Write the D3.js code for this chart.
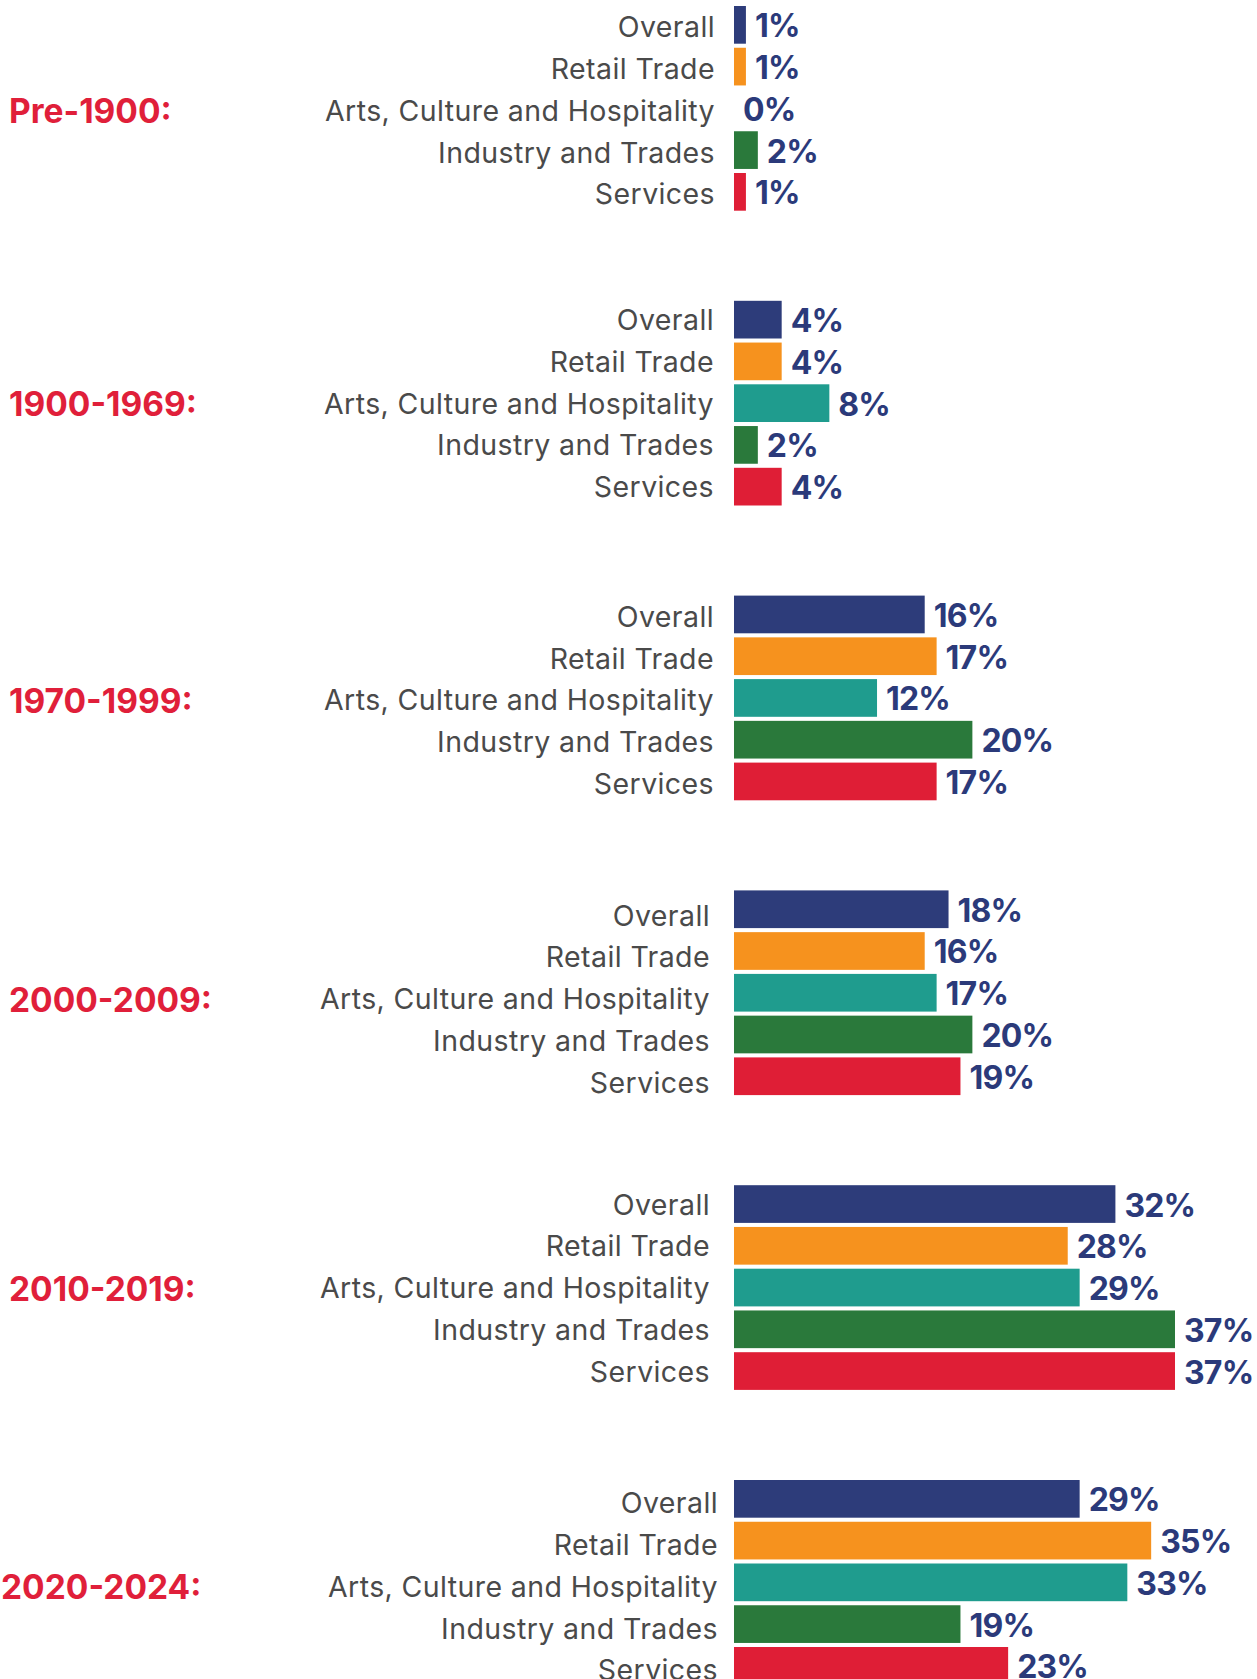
<html>
<head>
<script src="https://d3js.org/d3.v7.min.js"></script>
<style>
body { margin: 0; padding: 0; background: #fff; }
svg { display: block; }
.cat { font-family: Inter, sans-serif; font-size: 28.5px; letter-spacing: 0.4px; fill: #4a4a4a; text-anchor: end; }
.val { font-family: Inter, sans-serif; font-weight: bold; font-size: 32px; letter-spacing: -0.8px; fill: #2b3a7a; }
.period { font-family: Inter, sans-serif; font-weight: bold; font-size: 33.5px; fill: #e01f3a; }
</style>
</head>
<body>
<script>
var width = 1257;
var height = 1679;

// data
var periods = ["Pre-1900:", "1900-1969:", "1970-1999:", "2000-2009:", "2010-2019:", "2020-2024:"];
var sectors = ["Overall", "Retail Trade", "Arts, Culture and Hospitality", "Industry and Trades", "Services"];
var overall = [1, 4, 16, 18, 32, 29];
var retail = [1, 4, 17, 16, 28, 35];
var arts = [0, 8, 12, 17, 29, 33];
var industry = [2, 2, 20, 20, 37, 19];
var services = [1, 4, 17, 19, 37, 23];

var series = [overall, retail, arts, industry, services];
var colors = ["#2d3c7a", "#f6921e", "#1f9c8e", "#2a793b", "#df1e36"];

// small per-group label nudges (the source panels are not perfectly aligned)
var catDx = [1, 0, 0, -4, -4, 4];
var catDy = [0, -2, 0, 4, -2, 2];
var periodX = [9, 9, 9, 9, 9, 1];

var x = d3.scaleLinear().domain([0, 37]).range([734, 1175]);
var yGroup = d3.scaleLinear().domain([0, periods.length - 1]).range([6, 1480]);
var yBar = d3.scaleBand().domain(sectors).range([0, 204.7]).paddingInner(0.097);

var svg = d3.select("body")
    .append("svg")
    .attr("width", width)
    .attr("height", height);

svg.append("rect").attr("width", width).attr("height", height).attr("fill", "#fff");

var groups = svg.selectAll(".group")
    .data(periods)
    .enter().append("g")
    .attr("class", "group")
    .attr("transform", function (d, i) { return "translate(0," + yGroup(i) + ")"; });

// period label, centred on the middle bar
groups.append("text")
    .attr("class", "period")
    .attr("x", function (d, i) { return periodX[i]; })
    .attr("y", function (d, i) { return yBar(sectors[2]) + yBar.bandwidth() / 2 + 15 + catDy[i]; })
    .text(function (d) { return d; });

groups.each(function (p, gi) {
    var g = d3.select(this);
    var rows = sectors.map(function (s, si) {
        return { sector: s, value: series[si][gi], color: colors[si] };
    });

    g.selectAll(".cat")
        .data(rows)
        .enter().append("text")
        .attr("class", "cat")
        .attr("x", 714 + catDx[gi])
        .attr("y", function (d) { return yBar(d.sector) + yBar.bandwidth() / 2 + 12.5 + catDy[gi]; })
        .text(function (d) { return d.sector; });

    g.selectAll(".bar")
        .data(rows)
        .enter().append("rect")
        .attr("class", "bar")
        .attr("x", x(0))
        .attr("y", function (d) { return yBar(d.sector); })
        .attr("width", function (d) { return x(d.value) - x(0); })
        .attr("height", yBar.bandwidth())
        .attr("fill", function (d) { return d.color; });

    g.selectAll(".val")
        .data(rows)
        .enter().append("text")
        .attr("class", "val")
        .attr("x", function (d) { return x(d.value) + 9; })
        .attr("y", function (d) { return yBar(d.sector) + yBar.bandwidth() / 2 + 12.5; })
        .text(function (d) { return d.value + "%"; });
});
</script>
</body>
</html>
